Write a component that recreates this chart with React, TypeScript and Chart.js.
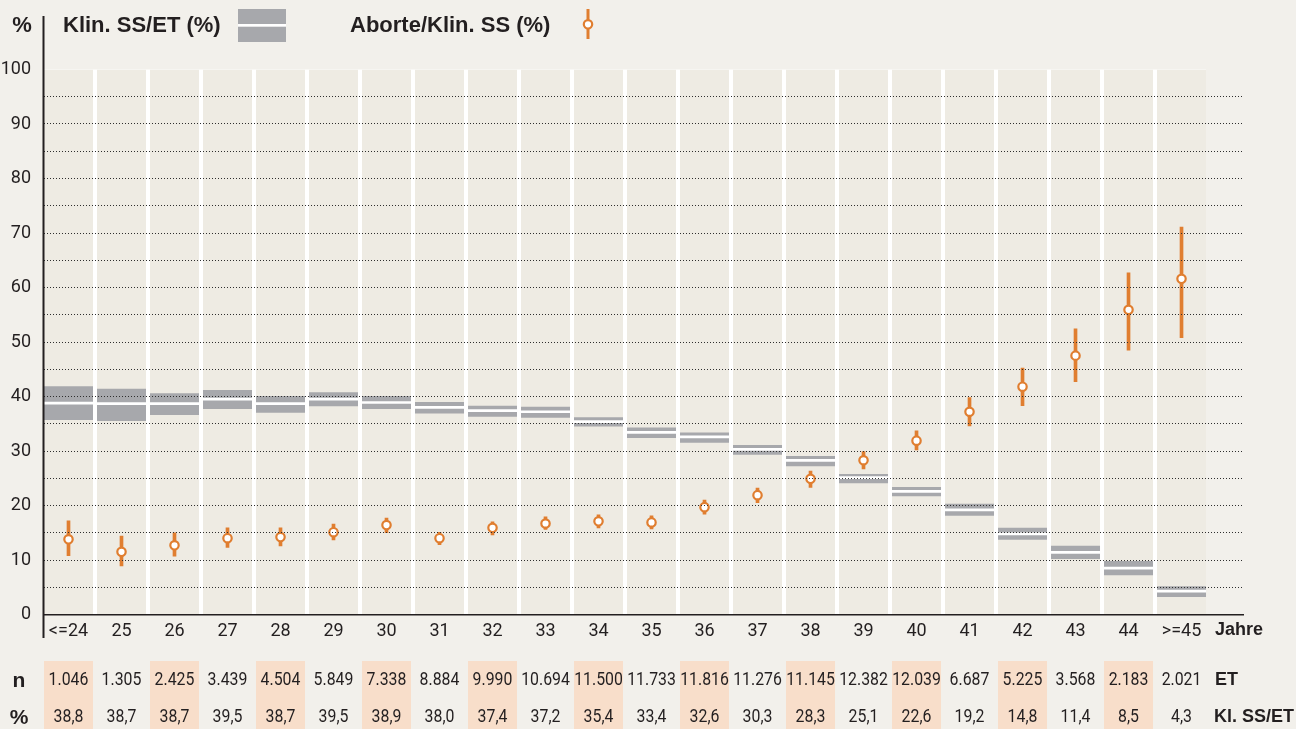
import { useEffect, useRef } from 'react';
import { Chart, registerables } from 'chart.js';

Chart.register(...registerables);

// ---------- data ----------
const categories = ['<=24', '25', '26', '27', '28', '29', '30', '31', '32', '33', '34', '35', '36', '37', '38', '39', '40', '41', '42', '43', '44', '>=45'];

// Klin. SS/ET (%) point estimate (white line) and interval (gray band)
const ssetRate = [38.8, 38.7, 38.7, 39.5, 38.7, 39.5, 38.9, 38.0, 37.4, 37.2, 35.4, 33.4, 32.6, 30.3, 28.3, 25.1, 22.6, 19.2, 14.8, 11.4, 8.5, 4.3];
const ssetLow = [35.7, 35.5, 36.6, 37.7, 37.0, 38.2, 37.7, 36.9, 36.3, 36.1, 34.5, 32.4, 31.5, 29.3, 27.2, 24.1, 21.7, 18.1, 13.7, 10.2, 7.2, 3.2];
const ssetHigh = [41.9, 41.4, 40.6, 41.2, 40.1, 40.8, 40.1, 39.0, 38.3, 38.1, 36.2, 34.3, 33.4, 31.1, 29.1, 25.8, 23.4, 20.3, 15.9, 12.6, 9.8, 5.2];

// Aborte/Klin. SS (%) point and interval
const abortRate = [13.8, 11.5, 12.7, 14.0, 14.2, 15.1, 16.4, 14.0, 15.9, 16.7, 17.1, 16.9, 19.7, 21.9, 24.9, 28.3, 31.9, 37.2, 41.8, 47.5, 55.9, 61.6];
const abortLow = [10.8, 8.9, 10.7, 12.3, 12.6, 13.7, 15.0, 12.8, 14.6, 15.6, 15.9, 15.7, 18.4, 20.5, 23.3, 26.7, 30.2, 34.6, 38.3, 42.7, 48.5, 50.8];
const abortHigh = [17.2, 14.4, 15.0, 15.9, 15.9, 16.6, 17.7, 15.1, 17.0, 17.9, 18.3, 18.1, 21.0, 23.2, 26.3, 29.9, 33.7, 39.8, 45.2, 52.4, 62.7, 71.1];

// table: number of ET
const etCounts = ['1.046', '1.305', '2.425', '3.439', '4.504', '5.849', '7.338', '8.884', '9.990', '10.694', '11.500', '11.733', '11.816', '11.276', '11.145', '12.382', '12.039', '6.687', '5.225', '3.568', '2.183', '2.021'];

// y axis
const yMin = 0;
const yMax = 100;
const yGridStep = 5;
const yLabelStep = 10;

// ---------- style ----------
const PAGE_BG = '#F2F0EB';
const COL_BG = '#EEEBE3';
const GRAY = '#A7A8AC';
const ORANGE = '#E07E30';
const PEACH = '#F8DECA';
const TEXT = '#231F20';
const NUM_FONT = "Roboto, 'Liberation Sans', sans-serif";
const BOLD_FONT = "'Liberation Sans', Arial, sans-serif";
const COL_FRAC = 49 / 53;
const NARROW = 0.88;

const fmtPct = (v: number) => v.toFixed(1).replace('.', ',');

const narrowText = (ctx: CanvasRenderingContext2D, text: string, cx: number, cy: number) => {
  ctx.save();
  ctx.translate(cx, cy);
  ctx.scale(NARROW, 1);
  ctx.fillText(text, 0, 0);
  ctx.restore();
};

const decorPlugin = {
  id: 'decor',
  beforeDatasetsDraw(chart: any) {
    const { ctx, scales } = chart;
    const x = scales.x;
    const y = scales.y;
    const pitch = x.getPixelForValue(1) - x.getPixelForValue(0);
    const half = (pitch * COL_FRAC) / 2;
    const left = x.getPixelForValue(0) - half;
    const right = x.getPixelForValue(categories.length - 1) + half;
    const top = y.getPixelForValue(yMax);
    const bottom = y.getPixelForValue(yMin);
    ctx.save();
    ctx.fillStyle = '#FFFFFF';
    ctx.fillRect(left, top, right - left, bottom - top);
    ctx.restore();
  },
  afterDraw(chart: any) {
    const { ctx, scales, chartArea } = chart;
    const x = scales.x;
    const pitch = x.getPixelForValue(1) - x.getPixelForValue(0);
    const half = (pitch * COL_FRAC) / 2;
    ctx.save();

    // left vertical axis line (extends above and below the plot)
    ctx.strokeStyle = TEXT;
    ctx.lineWidth = 2;
    ctx.beginPath();
    ctx.moveTo(chartArea.left - 0.5, 16);
    ctx.lineTo(chartArea.left - 0.5, 638);
    ctx.stroke();

    // table shading
    const rowTop = 661;
    const rowBottom = 729;
    categories.forEach((_, i) => {
      if (i % 2 === 0) {
        const cx = x.getPixelForValue(i);
        ctx.fillStyle = PEACH;
        ctx.fillRect(cx - half, rowTop, half * 2, rowBottom - rowTop);
      }
    });

    // table values
    ctx.fillStyle = TEXT;
    ctx.textAlign = 'center';
    ctx.textBaseline = 'middle';
    ctx.font = `18px ${NUM_FONT}`;
    categories.forEach((_, i) => {
      const cx = x.getPixelForValue(i);
      narrowText(ctx, etCounts[i], cx, 680);
      narrowText(ctx, fmtPct(ssetRate[i]), cx, 717);
    });

    // bold labels
    ctx.textAlign = 'center';
    ctx.font = `bold 22px ${BOLD_FONT}`;
    ctx.fillText('%', 22, 26);
    ctx.font = `bold 21px ${BOLD_FONT}`;
    ctx.fillText('n', 19, 681);
    ctx.fillText('%', 19, 718);
    ctx.textAlign = 'left';
    ctx.font = `bold 18px ${BOLD_FONT}`;
    ctx.fillText('Jahre', 1215, 630);
    ctx.fillText('ET', 1215, 680);
    ctx.fillText('Kl. SS/ET', 1214, 717);

    // legend
    ctx.font = `bold 22px ${BOLD_FONT}`;
    ctx.fillText('Klin. SS/ET (%)', 63, 26);
    ctx.fillStyle = GRAY;
    ctx.fillRect(238, 9, 48, 33);
    ctx.fillStyle = '#FFFFFF';
    ctx.fillRect(238, 24, 48, 2.7);
    ctx.fillStyle = TEXT;
    ctx.fillText('Aborte/Klin. SS (%)', 350, 26);
    ctx.strokeStyle = ORANGE;
    ctx.lineWidth = 3;
    ctx.beginPath();
    ctx.moveTo(588, 9);
    ctx.lineTo(588, 39);
    ctx.stroke();
    ctx.lineWidth = 2.2;
    ctx.fillStyle = '#FFFFFF';
    ctx.beginPath();
    ctx.arc(588, 24.3, 4.2, 0, Math.PI * 2);
    ctx.fill();
    ctx.stroke();

    ctx.restore();
  },
};

export default function App() {
  const canvasRef = useRef<HTMLCanvasElement | null>(null);

  useEffect(() => {
    const canvas = canvasRef.current;
    if (!canvas) return;
    const idx = categories.map((_, i) => i);

    const chart = new Chart(canvas, {
      type: 'bar',
      data: {
        datasets: [
          {
            type: 'line',
            label: 'Aborte/Klin. SS (%)',
            data: idx.map((i) => ({ x: i, y: abortRate[i] })),
            showLine: false,
            pointRadius: 4.2,
            pointBorderWidth: 2.2,
            pointBackgroundColor: '#FFFFFF',
            pointBorderColor: ORANGE,
            order: 1,
          } as any,
          {
            label: 'Aborte interval',
            data: idx.map((i) => ({ x: i, y: [abortLow[i], abortHigh[i]] })),
            backgroundColor: ORANGE,
            barThickness: 3,
            grouped: false,
            order: 2,
          } as any,
          {
            label: 'Klin. SS/ET value',
            data: idx.map((i) => ({ x: i, y: [ssetRate[i] - 0.25, ssetRate[i] + 0.25] })),
            backgroundColor: '#FFFFFF',
            barPercentage: COL_FRAC,
            categoryPercentage: 1,
            grouped: false,
            order: 3,
          } as any,
          {
            label: 'Klin. SS/ET (%)',
            data: idx.map((i) => ({ x: i, y: [ssetLow[i], ssetHigh[i]] })),
            backgroundColor: GRAY,
            barPercentage: COL_FRAC,
            categoryPercentage: 1,
            grouped: false,
            order: 4,
          } as any,
          {
            label: 'columns',
            data: idx.map((i) => ({ x: i, y: [yMin, yMax] })),
            backgroundColor: COL_BG,
            barPercentage: COL_FRAC,
            categoryPercentage: 1,
            grouped: false,
            order: 5,
          } as any,
        ],
      },
      options: {
        animation: false,
        responsive: false,
        maintainAspectRatio: false,
        layout: { padding: { top: 69.5, right: 53, bottom: 0, left: 0 } },
        plugins: {
          legend: { display: false },
          tooltip: { enabled: false },
        },
        scales: {
          x: {
            type: 'linear',
            offset: false,
            min: -0.4623,
            max: 22.16,
            afterBuildTicks: (s: any) => {
              s.ticks = categories.map((_, i) => ({ value: i }));
            },
            afterFit: (s: any) => {
              s.height = 114.5;
            },
            grid: { display: false, drawTicks: false, offset: false },
            border: { display: true, color: TEXT, width: 1.6, z: 2 },
            ticks: {
              autoSkip: false,
              maxRotation: 0,
              padding: 6,
              color: TEXT,
              font: { family: NUM_FONT, size: 18 },
              callback: (v: any) => categories[v as number] ?? '',
            },
          },
          y: {
            min: yMin,
            max: yMax,
            afterFit: (s: any) => {
              s.width = 44;
            },
            grid: {
              z: 1,
              drawTicks: false,
              lineWidth: 1,
              color: (c: any) => (c.tick && (c.tick.value === yMin || c.tick.value === yMax) ? 'rgba(0,0,0,0)' : '#2E2E2E'),
            },
            border: { display: false, dash: [1, 2] },
            ticks: {
              stepSize: yGridStep,
              padding: 13,
              color: TEXT,
              font: { family: NUM_FONT, size: 18 },
              callback: (v: any) => ((v as number) % yLabelStep === 0 ? String(v) : ''),
            },
          },
        },
      } as any,
      plugins: [decorPlugin],
    });
    return () => chart.destroy();
  }, []);

  return (
    <div style={{ position: 'fixed', left: 0, top: 0, width: 1296, height: 729, background: PAGE_BG }}>
      <canvas ref={canvasRef} width={1296} height={729} style={{ width: 1296, height: 729, display: 'block' }} />
    </div>
  );
}
